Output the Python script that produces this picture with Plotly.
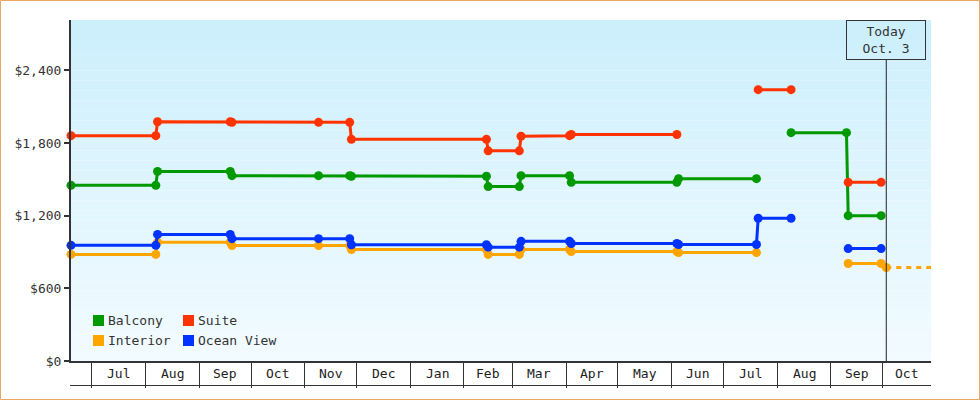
import plotly.graph_objects as go
import pandas as pd

# ---------------- data ----------------
balcony_dates = ["2013-06-19", "2013-08-07", "2013-08-08", "2013-09-19", "2013-09-20", "2013-11-09",
                 "2013-11-27", "2013-11-28", "2014-02-14", "2014-02-15", "2014-03-05", "2014-03-06",
                 "2014-04-03", "2014-04-04", "2014-06-04", "2014-06-05", "2014-07-20", "2014-07-28",
                 "2014-08-09", "2014-09-10", "2014-09-11", "2014-09-30"]
balcony_prices = [1450, 1450, 1565, 1565, 1530, 1530, 1530, 1525, 1525, 1440, 1440, 1530,
                  1530, 1475, 1475, 1505, 1505, None, 1885, 1885, 1200, 1200]

suite_dates = ["2013-06-19", "2013-08-07", "2013-08-08", "2013-09-19", "2013-09-20", "2013-11-09",
               "2013-11-27", "2013-11-28", "2014-02-14", "2014-02-15", "2014-03-05", "2014-03-06",
               "2014-04-03", "2014-04-04", "2014-06-04", "2014-06-20", "2014-07-21", "2014-08-09",
               "2014-08-25", "2014-09-11", "2014-09-30"]
suite_prices = [1860, 1860, 1975, 1975, 1970, 1970, 1970, 1830, 1830, 1735, 1735, 1855,
                1860, 1870, 1870, None, 2240, 2240, None, 1475, 1475]

interior_dates = ["2013-06-19", "2013-08-07", "2013-08-08", "2013-09-19", "2013-09-20", "2013-11-09",
                  "2013-11-27", "2013-11-28", "2014-02-14", "2014-02-15", "2014-03-05", "2014-03-06",
                  "2014-04-03", "2014-04-04", "2014-06-04", "2014-06-05", "2014-07-20", "2014-08-20",
                  "2014-09-11", "2014-09-30", "2014-10-03"]
interior_prices = [880, 880, 980, 980, 953, 953, 953, 920, 920, 880, 880, 920,
                   920, 903, 903, 895, 895, None, 805, 805, 772]

ocean_dates = ["2013-06-19", "2013-08-07", "2013-08-08", "2013-09-19", "2013-09-20", "2013-11-09",
               "2013-11-27", "2013-11-28", "2014-02-14", "2014-02-15", "2014-03-05", "2014-03-06",
               "2014-04-03", "2014-04-04", "2014-06-04", "2014-06-05", "2014-07-20", "2014-07-21",
               "2014-08-09", "2014-08-25", "2014-09-11", "2014-09-30"]
ocean_prices = [955, 955, 1045, 1045, 1010, 1010, 1010, 960, 960, 940, 940, 988,
                988, 970, 970, 962, 962, 1178, 1178, None, 928, 928]

series_names = ["Balcony", "Interior", "Suite", "Ocean View"]
series_colors = ["#009900", "#FFA500", "#FF3300", "#0033FF"]
series_dates = [balcony_dates, interior_dates, suite_dates, ocean_dates]
series_prices = [balcony_prices, interior_prices, suite_prices, ocean_prices]

legend_order = ["Balcony", "Suite", "Interior", "Ocean View"]  # 2 columns

month_starts = ["2013-07-01", "2013-08-01", "2013-09-01", "2013-10-01", "2013-11-01", "2013-12-01",
                "2014-01-01", "2014-02-01", "2014-03-01", "2014-04-01", "2014-05-01", "2014-06-01",
                "2014-07-01", "2014-08-01", "2014-09-01", "2014-10-01", "2014-11-01"]
month_labels = ["Jul", "Aug", "Sep", "Oct", "Nov", "Dec", "Jan", "Feb", "Mar", "Apr", "May",
                "Jun", "Jul", "Aug", "Sep", "Oct"]

today = "2014-10-03"
today_label = "Today<br>Oct. 3"
x_range = ["2013-06-19", "2014-10-28 20:00"]
y_range = [0, 2815]
y_ticks = [0, 600, 1200, 1800, 2400]
y_tick_labels = ["$0", "$600", "$1,200", "$1,800", "$2,400"]

# ---------------- geometry helpers ----------------
W, H = 980, 400
ML, MR, MT, MB = 71, 49, 20, 39
PW, PH = W - ML - MR, H - MT - MB
FONT = "DejaVu Sans Mono"
TXT = "#333333"


def px(xp):
    return (xp - ML) / PW


def py(yp):
    return (H - MB - yp) / PH


fig = go.Figure()

for name, color, d, p in zip(series_names, series_colors, series_dates, series_prices):
    fig.add_trace(go.Scatter(
        x=d, y=p, mode="lines+markers", name=name, showlegend=False,
        line=dict(color=color, width=3), marker=dict(color=color, size=9, symbol="circle"),
        connectgaps=False, cliponaxis=False, hoverinfo="x+y"))

# dotted extension of the current Interior price
fig.add_trace(go.Scatter(
    x=[interior_dates[-1], x_range[1]], y=[interior_prices[-1], interior_prices[-1]],
    mode="lines", showlegend=False, line=dict(color="#FFA500", width=3, dash="5px,5px"),
    hoverinfo="skip"))

shapes = []
# gradient background
n_bands = 34
top = (204, 239, 252)
bot = (242, 251, 255)
for i in range(n_bands):
    t = i / (n_bands - 1)
    c = tuple(round(top[k] + (bot[k] - top[k]) * t) for k in range(3))
    shapes.append(dict(type="rect", xref="paper", yref="paper", x0=0, x1=1,
                       y0=1 - (i + 1) / n_bands, y1=1 - i / n_bands,
                       fillcolor="rgb(%d,%d,%d)" % c, line=dict(width=0), layer="below"))

# bottom line of the month band
shapes.append(dict(type="line", xref="paper", yref="paper", x0=px(70), x1=1,
                   y0=py(385.5), y1=py(385.5), line=dict(color=TXT, width=1)))
# today line
shapes.append(dict(type="line", xref="x", yref="paper", x0=today, x1=today,
                   y0=0, y1=py(60), line=dict(color="#222222", width=1)))
# outer border
shapes.append(dict(type="rect", xref="paper", yref="paper", x0=px(0.5), x1=px(W - 0.5),
                   y0=py(H - 0.5), y1=py(0.5), line=dict(color="#EAA862", width=1),
                   fillcolor="rgba(0,0,0,0)", layer="above"))

annotations = []
# month labels centered on the visible part of each month
r0, r1 = pd.Timestamp(x_range[0]), pd.Timestamp(x_range[1])
for i, lab in enumerate(month_labels):
    a = max(pd.Timestamp(month_starts[i]), r0)
    b = min(pd.Timestamp(month_starts[i + 1]), r1)
    mid = a + (b - a) / 2
    annotations.append(dict(x=mid, y=py(373.5), xref="x", yref="paper", text=lab,
                            showarrow=False, xanchor="center", yanchor="middle",
                            font=dict(family=FONT, size=13, color="#222222")))

# today box
annotations.append(dict(x=today, y=1, xref="x", yref="paper", text=today_label,
                        showarrow=False, xanchor="center", yanchor="top",
                        width=78, height=38, borderpad=0, bordercolor=TXT, borderwidth=1,
                        bgcolor="rgba(0,0,0,0)", align="center",
                        font=dict(family=FONT, size=13, color=TXT)))

# manual legend (2 columns x 2 rows)
col_x = [93, 183]
row_y = [320.5, 340.5]
for k, name in enumerate(legend_order):
    color = series_colors[series_names.index(name)]
    cx, cy = col_x[k % 2], row_y[k // 2]
    shapes.append(dict(type="rect", xref="paper", yref="paper", x0=px(cx), x1=px(cx + 11),
                       y0=py(cy + 5.5), y1=py(cy - 5.5), fillcolor=color, line=dict(width=0)))
    annotations.append(dict(x=px(cx + 13), y=py(cy), xref="paper", yref="paper", text=name,
                            showarrow=False, xanchor="left", yanchor="middle",
                            font=dict(family=FONT, size=13, color=TXT)))

fig.update_layout(
    width=W, height=H, margin=dict(l=ML, r=MR, t=MT, b=MB),
    paper_bgcolor="white", plot_bgcolor="white",
    font=dict(family=FONT, size=13, color=TXT),
    shapes=shapes, annotations=annotations, hovermode="closest",
    xaxis=dict(type="date", range=x_range, showgrid=False, zeroline=False,
               showline=True, linecolor=TXT, linewidth=2,
               tickmode="array", tickvals=month_starts, showticklabels=False,
               ticks="outside", ticklen=25, tickwidth=1, tickcolor=TXT),
    yaxis=dict(range=y_range, showgrid=False, zeroline=False, showline=True,
               linecolor=TXT, linewidth=2, tickmode="array", tickvals=y_ticks,
               ticktext=y_tick_labels, ticks="outside", ticklen=5, tickwidth=2,
               tickcolor=TXT, tickfont=dict(family=FONT, size=13, color=TXT)),
)

fig.write_html("out.html", config={"displayModeBar": False},
               post_script="document.body.style.margin='0';document.body.style.padding='0';")
